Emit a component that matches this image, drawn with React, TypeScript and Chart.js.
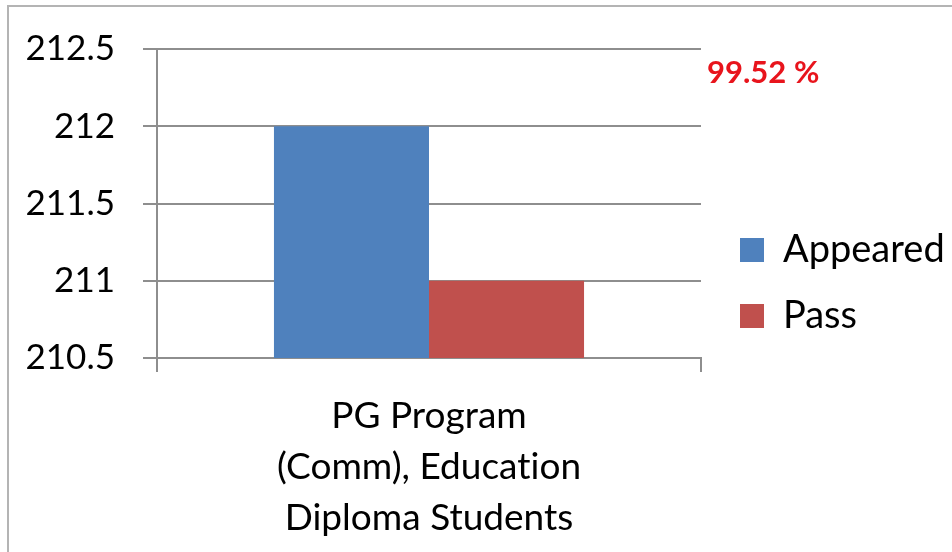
import React, { useEffect, useRef } from "react";
import { Chart, registerables } from "chart.js";

Chart.register(...registerables);

const categories = [["PG Program", "(Comm), Education", "Diploma Students"]];
const seriesNames = ["Appeared", "Pass"];
const appeared = [212];
const pass = [211];
const seriesColors = ["#4F81BD", "#C0504D"];
const yTickValues = [210.5, 211, 211.5, 212, 212.5];
const yTickLabels = ["210.5", "211", "211.5", "212", "212.5"];
const annotationText = "99.52 %";

const GRID = "#8e8e8e";
const FONT = "Lato";

const extrasPlugin = {
  id: "extras",
  afterLayout(chart: any) {
    const lg = chart.legend;
    if (lg) {
      lg.left += 11;
      lg.right = chart.width;
      lg.width = lg.right - lg.left;
      lg.top -= 15;
      lg.bottom -= 15;
    }
  },
  beforeDraw(chart: any) {
    const ctx = chart.ctx as any;
    try {
      ctx.textRendering = "optimizeSpeed";
      ctx.letterSpacing = "0.01px";
    } catch (e) {}
  },
  afterDraw(chart: any) {
    const { ctx, chartArea } = chart;
    ctx.save();
    ctx.font = `bold 31px ${FONT}`;
    ctx.fillStyle = "#E8141C";
    ctx.textAlign = "left";
    ctx.textBaseline = "alphabetic";
    ctx.fillText(annotationText, chartArea.right + 6, chartArea.top + 34);
    ctx.restore();
  },
};

export default function App() {
  const ref = useRef<HTMLCanvasElement | null>(null);

  useEffect(() => {
    if (!ref.current) return;
    const chart = new Chart(ref.current, {
      type: "bar",
      data: {
        labels: categories as any,
        datasets: [
          {
            label: seriesNames[0],
            data: appeared,
            backgroundColor: seriesColors[0],
            borderWidth: 0,
            categoryPercentage: 0.57,
            barPercentage: 1,
          },
          {
            label: seriesNames[1],
            data: pass,
            backgroundColor: seriesColors[1],
            borderWidth: 0,
            categoryPercentage: 0.57,
            barPercentage: 1,
          },
        ],
      },
      options: {
        animation: false,
        responsive: false,
        devicePixelRatio: 1,
        layout: { padding: { top: 44, right: 51, bottom: 0, left: 0 } },
        plugins: {
          tooltip: { enabled: false },
          legend: {
            position: "right",
            maxWidth: 200,
            labels: {
              boxWidth: 24,
              boxHeight: 24,
              padding: 28,
              color: "#000",
              font: { family: FONT, size: 38 },
            },
          },
        },
        scales: {
          x: {
            offset: true,
            grid: {
              offset: true,
              drawOnChartArea: false,
              drawTicks: true,
              tickLength: 14,
              color: GRID,
              lineWidth: 2,
            },
            border: { display: true, color: GRID, width: 2 },
            ticks: {
              color: "#000",
              padding: 19,
              maxRotation: 0,
              autoSkip: false,
              font: { family: FONT, size: 37, lineHeight: 51 / 37 },
            },
            afterFit(scale: any) {
              scale.height = 194;
            },
          },
          y: {
            min: 210.5,
            max: 212.5,
            grid: { color: GRID, lineWidth: 2, tickLength: 14 },
            border: { display: true, color: GRID, width: 2 },
            ticks: {
              stepSize: 0.5,
              padding: 28,
              color: "#000",
              font: { family: FONT, size: 35 },
              callback: (value: any) => {
                const v = Number(value);
                const i = yTickValues.findIndex((t) => Math.abs(t - v) < 1e-6);
                return i >= 0 ? yTickLabels[i] : "";
              },
            },
            afterFit(scale: any) {
              scale.width = 157;
            },
          },
        },
      },
      plugins: [extrasPlugin],
    });
    return () => chart.destroy();
  }, []);

  return (
    <div
      style={{
        position: "fixed",
        left: 0,
        top: 0,
        width: 952,
        height: 552,
        overflow: "hidden",
        background: "#fff",
      }}
    >
      <div
        style={{
          position: "absolute",
          left: 7,
          top: 5,
          width: 980,
          height: 600,
          border: "2px solid #b4b4b4",
        }}
      />
      <canvas
        ref={ref}
        width={952}
        height={552}
        style={{ position: "absolute", left: 0, top: 0, width: 952, height: 552 }}
      />
    </div>
  );
}
